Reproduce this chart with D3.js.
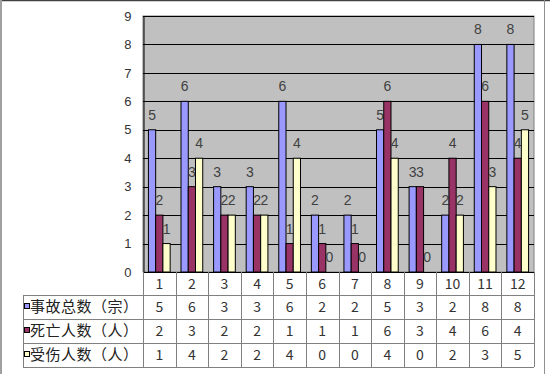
<!DOCTYPE html>
<html>
<head>
<meta charset="utf-8">
<script src="https://cdn.jsdelivr.net/npm/d3@7"></script>
<style>
  body { margin: 0; background: #fff; }
  svg { display: block; }
</style>
</head>
<body>
<svg id="chart"></svg>
<script>
// dữ liệu
const months = ["1", "2", "3", "4", "5", "6", "7", "8", "9", "10", "11", "12"];
const seriesNames = ["事故总数（宗）", "死亡人数（人）", "受伤人数（人）"];
const seriesColors = ["#9999FF", "#993366", "#FFFFCC"];
const accidents = [5, 6, 3, 3, 6, 2, 2, 5, 3, 2, 8, 8];
const deaths = [2, 3, 2, 2, 1, 1, 1, 6, 3, 4, 6, 4];
const injuries = [1, 4, 2, 2, 4, 0, 0, 4, 0, 2, 3, 5];
const yTicks = [0, 1, 2, 3, 4, 5, 6, 7, 8, 9];

const seriesValues = [accidents, deaths, injuries];

const width = 550;
const height = 374;
const plot = { left: 143, right: 534, top: 16, bottom: 272 };
const tableLeft = 23;
const rowH = 24;
const headerBottom = 295;

const svg = d3.select("#chart")
    .attr("width", width)
    .attr("height", height);

// khung ngoài
svg.append("line").attr("x1", 0).attr("x2", width).attr("y1", 0.5).attr("y2", 0.5)
    .attr("stroke", "#404040").attr("stroke-width", 1.5);
svg.append("rect").attr("x", 0).attr("y", 0).attr("width", 2).attr("height", height).attr("fill", "#a0a0a0");
svg.append("line").attr("x1", 544.5).attr("x2", 544.5).attr("y1", 0).attr("y2", height)
    .attr("stroke", "#909090");

const x = d3.scaleBand()
    .domain(months)
    .range([plot.left, plot.right])
    .paddingInner(0)
    .paddingOuter(0);

const x1 = d3.scaleBand()
    .domain(d3.range(seriesNames.length))
    .range([0, x.bandwidth()])
    .paddingInner(0)
    .paddingOuter(0.75);

const y = d3.scaleLinear()
    .domain([0, 9])
    .range([plot.bottom, plot.top]);

// vùng vẽ
svg.append("rect")
    .attr("x", plot.left).attr("y", plot.top)
    .attr("width", plot.right - plot.left).attr("height", plot.bottom - plot.top)
    .attr("fill", "#C0C0C0").attr("stroke", "#808080");

// đường lưới
svg.append("g")
    .selectAll("line")
    .data(yTicks.slice(1))
    .enter()
    .append("line")
    .attr("x1", plot.left).attr("x2", plot.right)
    .attr("y1", d => Math.round(y(d)) + 0.5).attr("y2", d => Math.round(y(d)) + 0.5)
    .attr("stroke", "#000");

// trục Y
const yAxis = svg.append("g")
    .attr("transform", `translate(${plot.left + 0.5},0)`)
    .call(d3.axisLeft(y).tickValues(yTicks).tickSize(0).tickPadding(12).tickFormat(d3.format("d")));
yAxis.select(".domain").attr("stroke", "#000");
yAxis.selectAll("text")
    .style("font-family", "'Liberation Sans', Arial, sans-serif")
    .style("font-size", "13px")
    .attr("fill", "#333");

// các cột
const groups = svg.append("g")
    .selectAll("g")
    .data(seriesValues)
    .enter()
    .append("g")
    .attr("fill", (d, i) => seriesColors[i]);

groups.each(function(vals, si) {
    d3.select(this).selectAll("rect")
        .data(vals)
        .enter()
        .append("rect")
        .attr("x", (d, i) => x(months[i]) + x1(si))
        .attr("y", d => y(d))
        .attr("width", x1.bandwidth())
        .attr("height", d => y(0) - y(d))
        .attr("stroke", "#000")
        .attr("stroke-width", 1);

    d3.select(this).selectAll("text")
        .data(vals)
        .enter()
        .append("text")
        .attr("x", (d, i) => x(months[i]) + x1(si) + x1.bandwidth() / 2)
        .attr("y", d => y(d) - 10)
        .attr("text-anchor", "middle")
        .attr("fill", "#404040")
        .style("font-family", "'Liberation Sans', Arial, sans-serif")
        .style("font-size", "14px")
        .text(d => d);
});

// trục X đáy
svg.append("line")
    .attr("x1", plot.left).attr("x2", plot.right)
    .attr("y1", plot.bottom + 0.5).attr("y2", plot.bottom + 0.5)
    .attr("stroke", "#000");

// bảng dữ liệu
const table = svg.append("g");
const tableBottom = headerBottom + rowH * seriesNames.length;

// đường ngang
table.selectAll(".hline")
    .data(d3.range(seriesNames.length + 1))
    .enter()
    .append("line")
    .attr("x1", tableLeft).attr("x2", plot.right)
    .attr("y1", d => headerBottom + d * rowH + 0.5).attr("y2", d => headerBottom + d * rowH + 0.5)
    .attr("stroke", "#808080");

// đường dọc
table.selectAll(".vline")
    .data(months.map(m => x(m)).concat([plot.right]))
    .enter()
    .append("line")
    .attr("x1", d => Math.round(d) + 0.5).attr("x2", d => Math.round(d) + 0.5)
    .attr("y1", plot.bottom).attr("y2", tableBottom)
    .attr("stroke", "#808080");

table.append("line")
    .attr("x1", tableLeft + 0.5).attr("x2", tableLeft + 0.5)
    .attr("y1", headerBottom).attr("y2", tableBottom)
    .attr("stroke", "#808080");

const tableFont = "'Noto Sans CJK SC', 'DejaVu Sans', sans-serif";

// hàng tiêu đề tháng
table.selectAll(".month")
    .data(months)
    .enter()
    .append("text")
    .attr("x", d => x(d) + x.bandwidth() / 2)
    .attr("y", (plot.bottom + headerBottom) / 2 + 5)
    .attr("text-anchor", "middle")
    .attr("fill", "#333")
    .style("font-family", tableFont)
    .style("font-size", "14px")
    .text(d => d);

seriesNames.forEach((name, si) => {
    const cy = headerBottom + si * rowH + rowH / 2;
    table.append("rect")
        .attr("x", tableLeft + 1.5).attr("y", cy - 3.5)
        .attr("width", 5).attr("height", 5)
        .attr("fill", seriesColors[si]).attr("stroke", "#000");
    table.append("text")
        .attr("x", tableLeft + 7).attr("y", cy + 5)
        .attr("fill", "#222")
        .style("font-family", tableFont)
        .style("font-size", "15px")
        .style("letter-spacing", "0.5px")
        .text(name);
    table.selectAll(".v" + si)
        .data(seriesValues[si])
        .enter()
        .append("text")
        .attr("x", (d, i) => x(months[i]) + x.bandwidth() / 2)
        .attr("y", cy + 5)
        .attr("text-anchor", "middle")
        .attr("fill", "#333")
        .style("font-family", tableFont)
        .style("font-size", "14px")
        .text(d => d);
});
</script>
</body>
</html>
